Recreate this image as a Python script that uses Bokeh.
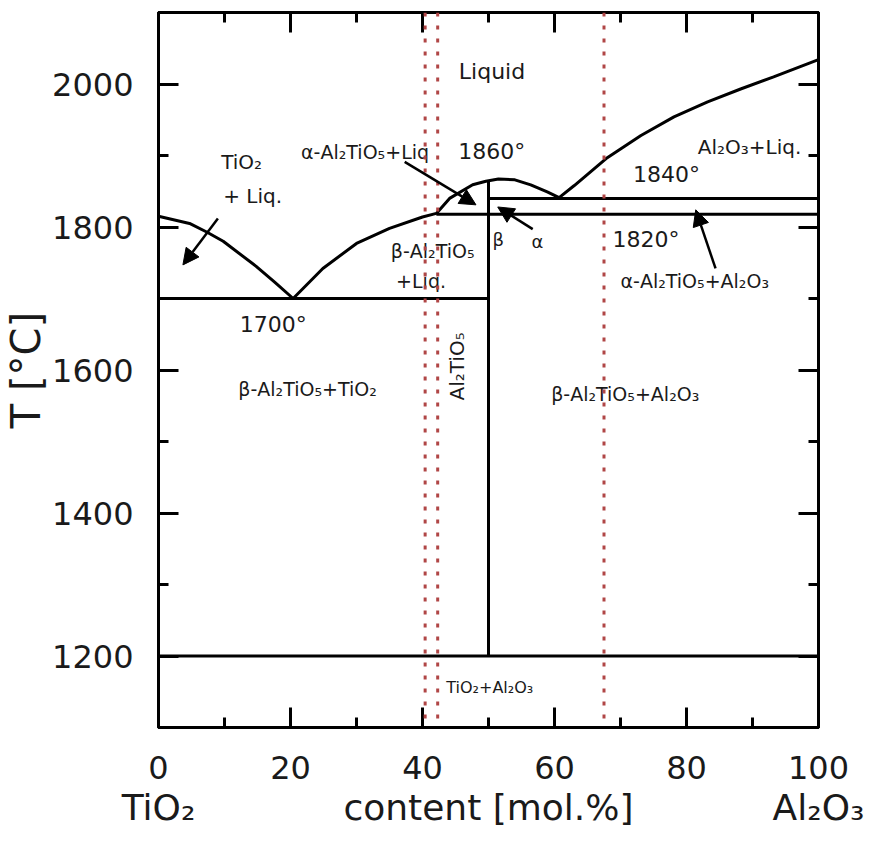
from bokeh.plotting import figure
from bokeh.models import (Range1d, LinearAxis, FixedTicker, ColumnDataSource,
                          Arrow, NormalHead, Span)
from bokeh.core.properties import value
from bokeh.embed import file_html
from bokeh.resources import INLINE

FONT = "DejaVu Sans"

# ---- data (mol.% Al2O3, temperature in deg C) ----
tio2_liq_x = [0, 4.7, 7.3, 9.8, 14.8, 17.6, 20.4]
tio2_liq_t = [1815, 1805, 1793, 1780, 1745, 1723, 1700]

at_liq_x = [20.4, 24.9, 30.0, 35.0, 40.0, 42.1, 44.1, 47.6, 49.6, 51.5, 54, 56.4, 58.9, 60.7]
at_liq_t = [1700, 1742, 1777, 1798, 1814, 1819, 1840, 1859, 1864, 1867, 1866, 1859, 1849, 1841]

al2o3_liq_x = [60.7, 63.0, 68.0, 73.1, 78.1, 83.2, 88.2, 93.2, 100]
al2o3_liq_t = [1841, 1858, 1897, 1928, 1954, 1975, 1993, 2010, 2034]

# isotherms and the compound line
seg_x0 = [0, 42.1, 50, 50, 0]
seg_x1 = [50, 100, 100, 50, 100]
seg_t0 = [1700, 1818, 1840, 1200, 1200]
seg_t1 = [1700, 1818, 1840, 1865, 1200]

# red dotted composition markers
dot_x = [40.4, 42.3, 67.5]

x_ticks = [0, 20, 40, 60, 80, 100]
x_minor = [10, 30, 50, 70, 90]
y_ticks = [1200, 1400, 1600, 1800, 2000]
y_minor = [1100, 1300, 1500, 1700, 1900, 2100]

# component names and axis title under the x axis
comp_pos = [0, 50, 100]
comp_text = ["TiO₂", "content [mol.%]", "Al₂O₃"]

# arrows: start -> end
arr_x0 = [9.0, 37.3, 56.7, 84.4]
arr_t0 = [1812, 1891, 1797, 1742]
arr_x1 = [3.7, 48.1, 51.4, 81.4]
arr_t1 = [1747, 1831, 1828, 1824]

# phase labels
lab_text = ["Liquid", "TiO₂", "+ Liq.", "α-Al₂TiO₅+Liq", "1860°", "Al₂O₃+Liq.",
            "1840°", "β-Al₂TiO₅", "+Liq.", "β", "α", "1820°", "α-Al₂TiO₅+Al₂O₃",
            "1700°", "β-Al₂TiO₅+TiO₂", "β-Al₂TiO₅+Al₂O₃", "TiO₂+Al₂O₃"]
lab_x = [45.5, 9.5, 9.8, 21.6, 45.4, 81.7, 71.9, 35.2, 36.0, 50.6, 56.5, 68.8, 70.0,
         12.3, 12.1, 59.5, 43.6]
lab_t = [2018, 1891, 1843, 1905, 1905, 1912, 1874, 1766, 1724, 1782, 1780, 1782, 1724,
         1664, 1574, 1566, 1156]
lab_size = ["22px", "20px", "20px", "19px", "22px", "20px", "22px", "19px", "19px",
            "18px", "18px", "22px", "19px", "22px", "19px", "19px", "16px"]

p = figure(width=872, height=845, output_backend="svg", toolbar_location=None,
           x_range=Range1d(0, 100), y_range=Range1d(1100, 2100),
           min_border_left=157, min_border_right=54, min_border_top=12,
           min_border_bottom=118)
p.background_fill_color = "white"
p.border_fill_color = "white"
p.xgrid.visible = False
p.ygrid.visible = False
p.outline_line_color = "black"
p.outline_line_width = 3

def style_axis(ax, ticks, minor, show_labels):
    ax.ticker = FixedTicker(ticks=ticks, minor_ticks=minor)
    ax.axis_line_color = "black"
    ax.axis_line_width = 3
    ax.major_tick_in = 20
    ax.major_tick_out = 0
    ax.minor_tick_in = 10
    ax.minor_tick_out = 0
    ax.major_tick_line_width = 3
    ax.minor_tick_line_width = 3
    ax.major_tick_line_color = "black"
    ax.minor_tick_line_color = "black"
    ax.major_label_text_font = FONT
    ax.major_label_text_color = "#1a1a1a"
    if show_labels:
        ax.major_label_text_font_size = "32px"
    else:
        ax.major_label_overrides = {t: "" for t in ticks}
        ax.major_label_text_font_size = "1px"
        ax.major_label_standoff = 0

xa = p.xaxis[0]
style_axis(xa, x_ticks, x_minor, True)
xa.major_label_standoff = 28

ya = p.yaxis[0]
style_axis(ya, y_ticks, y_minor, True)
ya.major_label_standoff = 25
ya.axis_label = "T [°C]"
ya.axis_label_text_font = FONT
ya.axis_label_text_font_size = "40px"
ya.axis_label_text_font_style = "normal"
ya.axis_label_standoff = 0
ya.axis_label_text_color = "#1a1a1a"

# second row under the x axis: component names and the axis title
comp_axis = LinearAxis(ticker=FixedTicker(ticks=comp_pos, minor_ticks=[]),
                       major_label_overrides={t: s for t, s in zip(comp_pos, comp_text)})
comp_axis.axis_line_color = None
comp_axis.major_tick_line_color = None
comp_axis.major_tick_in = 0
comp_axis.major_tick_out = 0
comp_axis.minor_tick_line_color = None
comp_axis.major_label_standoff = 5
comp_axis.major_label_text_font = FONT
comp_axis.major_label_text_font_size = "36px"
comp_axis.major_label_text_color = "#1a1a1a"
p.add_layout(comp_axis, "below")

top = LinearAxis()
style_axis(top, x_ticks, x_minor, False)
p.add_layout(top, "above")
right = LinearAxis()
style_axis(right, y_ticks, y_minor, False)
p.add_layout(right, "right")

# dotted markers
for xv in dot_x:
    p.add_layout(Span(location=xv, dimension="height", line_color="#b04646",
                      line_width=3, line_dash="4 9"))

# phase boundaries
p.segment(x0=seg_x0, y0=seg_t0, x1=seg_x1, y1=seg_t1, line_color="black", line_width=3)
p.line(tio2_liq_x, tio2_liq_t, line_color="black", line_width=3)
p.line(at_liq_x, at_liq_t, line_color="black", line_width=3)
p.line(al2o3_liq_x, al2o3_liq_t, line_color="black", line_width=3)

# arrows
for xs, ys, xe, ye in zip(arr_x0, arr_t0, arr_x1, arr_t1):
    p.add_layout(Arrow(x_start=xs, y_start=ys, x_end=xe, y_end=ye,
                       line_color="black", line_width=2.5,
                       end=NormalHead(size=16, fill_color="black", line_color="black")))

# labels
src = ColumnDataSource(dict(x=lab_x, y=lab_t, text=lab_text, size=lab_size))
p.text(x="x", y="y", text="text", source=src, text_font=value(FONT),
       text_font_size="size", text_align="left", text_baseline="middle",
       text_color="#1a1a1a")

p.text(x=[45.2], y=[1605], text=["Al₂TiO₅"], angle=1.5708, text_font=value(FONT),
       text_font_size="20px", text_align="center", text_baseline="middle",
       text_color="#1a1a1a")

open("out.html", "w").write(file_html(p, INLINE))
